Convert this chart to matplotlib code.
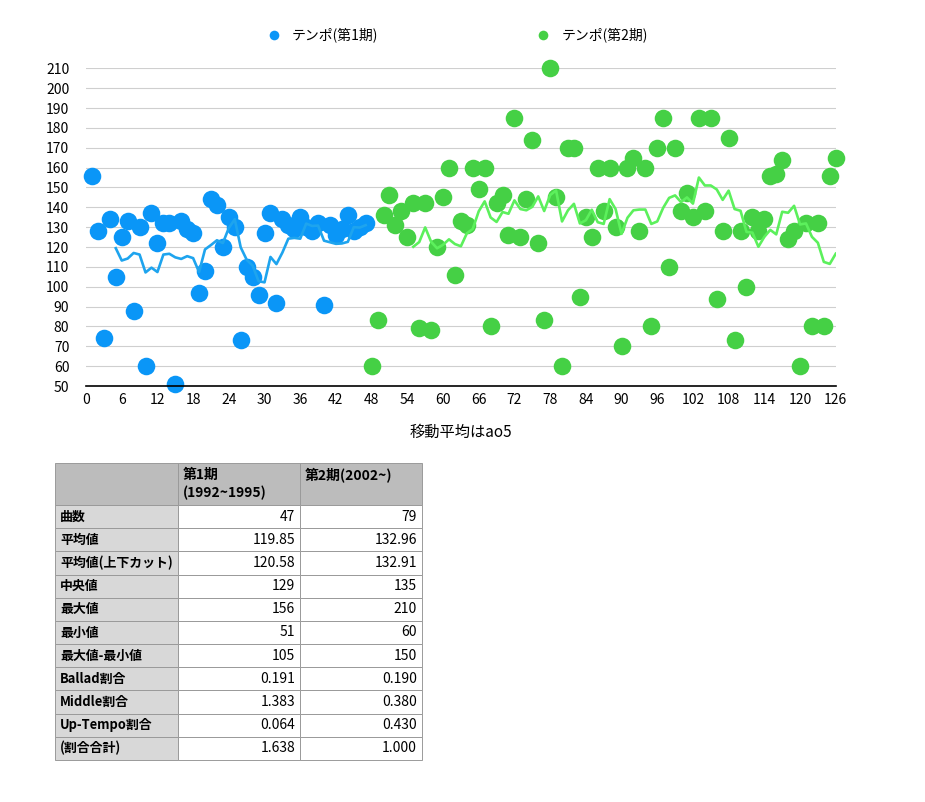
import numpy as np
import pandas as pd
import matplotlib
matplotlib.use('Agg')
import matplotlib.pyplot as plt

plt.rcParams['font.family'] = ['Noto Sans CJK JP', 'DejaVu Sans']

# tempo per song
tempo1 = [156, 128, 74, 134, 105, 125, 133, 88, 130, 60,
          137, 122, 132, 132, 51, 133, 129, 127, 97, 108,
          144, 141, 120, 135, 130, 73, 110, 105, 96, 127,
          137, 92, 134, 131, 129, 135, 130, 128, 132, 91,
          131, 126, 129, 136, 128, 130, 132]
tempo2 = [60, 83, 136, 146, 131, 138, 125, 142, 79, 142,
          78, 120, 145, 160, 106, 133, 131, 160, 149, 160,
          80, 142, 146, 126, 185, 125, 144, 174, 122, 83,
          210, 145, 60, 170, 170, 95, 135, 125, 160, 138,
          160, 130, 70, 160, 165, 128, 160, 80, 170, 185,
          110, 170, 138, 147, 135, 185, 138, 185, 94, 128,
          175, 73, 128, 100, 135, 128, 134, 156, 157, 164,
          124, 128, 60, 132, 80, 132, 80, 156, 165]
window1 = 5
window2 = 8

labels = ['テンポ(第1期)', 'テンポ(第2期)']
xlabel = '移動平均はao5'
xticks = list(range(0, 127, 6))
yticks = list(range(50, 211, 10))

col_labels = ['', '第1期\n(1992~1995)', '第2期(2002~)\n ']
row_labels = ['曲数', '平均値', '平均値(上下カット)', '中央値', '最大値', '最小値',
              '最大値-最小値', 'Ballad割合', 'Middle割合', 'Up-Tempo割合', '(割合合計)']
col1 = ['47', '119.85', '120.58', '129', '156', '51', '105', '0.191', '1.383', '0.064', '1.638']
col2 = ['79', '132.96', '132.91', '135', '210', '60', '150', '0.190', '0.380', '0.430', '1.000']

x1 = np.arange(1, len(tempo1) + 1)
x2 = np.arange(len(tempo1) + 1, len(tempo1) + len(tempo2) + 1)
ma1 = pd.Series(tempo1).rolling(window1).mean()
ma2 = pd.Series(tempo2).rolling(window2).mean()

blue = '#0a96f7'
green = '#45d045'

fig = plt.figure(figsize=(9.25, 8.02), dpi=100)
ax = fig.add_axes([0.093, 0.5187, 0.8105, 0.3961])

ax.scatter(x1, tempo1, s=160, c=blue, label=labels[0], zorder=3, clip_on=False, linewidths=0)
ax.scatter(x2, tempo2, s=160, c=green, label=labels[1], zorder=3, clip_on=False, linewidths=0)
ax.plot(x1, ma1, c='#1ea4ee', lw=1.9, zorder=4)
ax.plot(x2, ma2, c='#5cf05c', lw=1.9, zorder=4)

ax.set_xlim(0, 126)
ax.set_ylim(50, 210)
ax.set_xticks(xticks)
ax.set_yticks(yticks)
ax.tick_params(axis='both', length=0, labelsize=10)
ax.tick_params(axis='y', pad=12)
ax.tick_params(axis='x', pad=5)
ax.grid(axis='y', color='#cfcfcf', lw=0.8)
ax.set_axisbelow(True)
for s in ['top', 'right', 'left']:
    ax.spines[s].set_visible(False)
ax.spines['bottom'].set_color('black')
ax.spines['bottom'].set_linewidth(1.2)
ax.spines['bottom'].set_zorder(5)
ax.set_xlabel(xlabel, fontsize=11, labelpad=12)

fig.legend(loc='center', bbox_to_anchor=(0.4905, 0.957), ncol=2, frameon=False,
           fontsize=10, markerscale=0.55, handletextpad=0.3, columnspacing=10.9)

# stats table
tax = fig.add_axes([55 / 925, 1 - 760 / 802, 367 / 925, 297 / 802])
tax.axis('off')
cell_text = [col_labels] + [[r, a, b] for r, a, b in zip(row_labels, col1, col2)]
tbl = tax.table(cellText=cell_text, bbox=[0, 0, 1, 1], colWidths=[123, 122, 122])
tbl.auto_set_font_size(False)
tbl.set_fontsize(10)
for (r, c), cell in tbl.get_celld().items():
    cell.set_edgecolor('#9a9a9a')
    cell.set_linewidth(0.7)
    cell.PAD = 0.04
    txt = cell.get_text()
    if r == 0:
        cell.set_facecolor('#bcbcbc')
        cell.set_height(42)
        txt.set_fontweight('bold')
        txt.set_linespacing(1.3)
        cell._loc = 'left'
        txt.set_ha('left')
    else:
        cell.set_height(23.2)
        if c == 0:
            cell.set_facecolor('#d8d8d8')
            txt.set_fontweight('bold')
            txt.set_fontsize(9.3)
            cell._loc = 'left'
            txt.set_ha('left')
        else:
            cell.set_facecolor('white')
            cell._loc = 'right'
            txt.set_ha('right')

fig.savefig('out.png', dpi=100)
